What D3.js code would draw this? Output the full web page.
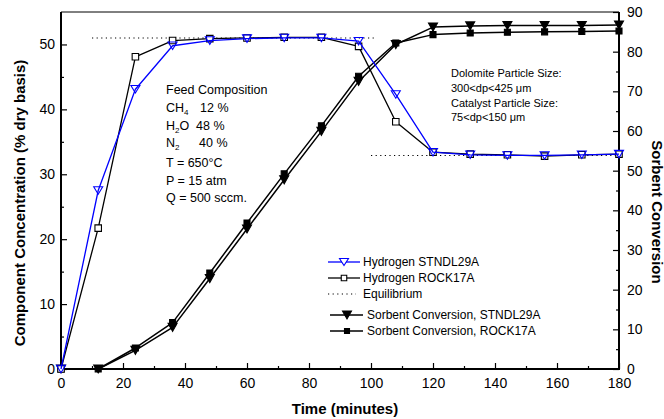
<!DOCTYPE html>
<html><head><meta charset="utf-8">
<script src="https://cdn.jsdelivr.net/npm/d3@7/dist/d3.min.js"></script>
<style>
body{margin:0;background:#fff}
svg{display:block;font-family:"Liberation Sans",Arial,sans-serif}
</style>
</head><body>
<svg id="chart" width="664" height="419"></svg>
<script>
// ---- data ----
const time       = [0, 12, 24, 36, 48, 60, 72, 84, 96, 108, 120, 132, 144, 156, 168, 180];
const h2Stndl    = [0, 27.5, 43.1, 49.8, 50.6, 50.9, 51.0, 51.0, 50.5, 42.3, 33.4, 33.0, 32.9, 32.9, 33.0, 33.1];
const h2Rock     = [0, 21.7, 48.1, 50.6, 50.9, 51.0, 51.1, 51.1, 49.7, 38.1, 33.4, 33.1, 33.0, 32.8, 33.0, 33.1];
const convStndl  = [0, 0, 4.7, 10.5, 22.8, 35.3, 47.7, 59.9, 72.5, 81.8, 86.2, 86.5, 86.6, 86.6, 86.6, 86.7];
const convRock   = [0, 0, 5.3, 11.7, 24.2, 36.8, 49.2, 61.3, 73.8, 82.2, 84.3, 84.7, 84.9, 85.0, 85.1, 85.2];
const eqUpperTime = [10, 102];
const eqUpper     = [51.0, 51.0];
const eqLowerTime = [100, 180];
const eqLower     = [32.9, 32.9];
const xTicks      = [0, 20, 40, 60, 80, 100, 120, 140, 160, 180];
const xMinor      = [10, 30, 50, 70, 90, 110, 130, 150, 170];
const leftTicks   = [0, 10, 20, 30, 40, 50];
const leftMinor   = [5, 15, 25, 35, 45];
const rightTicks  = [0, 10, 20, 30, 40, 50, 60, 70, 80, 90];
const rightMinor  = [5, 15, 25, 35, 45, 55, 65, 75, 85];
const legendLabels = ["Hydrogen STNDL29A", "Hydrogen ROCK17A", "Equilibrium",
                      "Sorbent Conversion, STNDL29A", "Sorbent Conversion, ROCK17A"];

// ---- layout ----
const L = 61, R = 619, T = 12, B = 369;
const svg = d3.select("#chart");
const x  = d3.scaleLinear().domain([0, 180]).range([L, R]);
const yL = d3.scaleLinear().domain([0, 55]).range([B, T]);
const yR = d3.scaleLinear().domain([0, 90]).range([B, T]);

function styleAxis(g, fs) {
  g.select(".domain").remove();
  g.selectAll("line").attr("stroke", "#000").attr("stroke-width", 1.2);
  g.selectAll("text").attr("font-size", fs).attr("fill", "#000")
   .attr("font-family", '"Liberation Sans",Arial,sans-serif');
}
// bottom
svg.append("g").attr("transform", `translate(0,${B})`)
  .call(d3.axisBottom(x).tickValues(xTicks).tickSizeInner(-6).tickSizeOuter(0).tickPadding(9))
  .call(g => styleAxis(g, 14));
svg.append("g").attr("transform", `translate(0,${B})`)
  .call(d3.axisBottom(x).tickValues(xMinor).tickSizeInner(-3).tickSizeOuter(0).tickFormat(""))
  .call(g => styleAxis(g, 14));
// left
svg.append("g").attr("transform", `translate(${L},0)`)
  .call(d3.axisLeft(yL).tickValues(leftTicks).tickSizeInner(-6).tickSizeOuter(0).tickPadding(6))
  .call(g => styleAxis(g, 14));
svg.append("g").attr("transform", `translate(${L},0)`)
  .call(d3.axisLeft(yL).tickValues(leftMinor).tickSizeInner(-3).tickSizeOuter(0).tickFormat(""))
  .call(g => styleAxis(g, 14));
// right
svg.append("g").attr("transform", `translate(${R},0)`)
  .call(d3.axisRight(yR).tickValues(rightTicks).tickSizeInner(-6).tickSizeOuter(0).tickPadding(8))
  .call(g => styleAxis(g, 14));
svg.append("g").attr("transform", `translate(${R},0)`)
  .call(d3.axisRight(yR).tickValues(rightMinor).tickSizeInner(-3).tickSizeOuter(0).tickFormat(""))
  .call(g => styleAxis(g, 14));

// frame
svg.append("line").attr("x1", L).attr("x2", R).attr("y1", T).attr("y2", T).attr("stroke", "#000").attr("stroke-width", 1);
svg.append("line").attr("x1", L - 1).attr("x2", R + 1).attr("y1", B).attr("y2", B).attr("stroke", "#000").attr("stroke-width", 2);
svg.append("line").attr("x1", L).attr("x2", L).attr("y1", T).attr("y2", B).attr("stroke", "#000").attr("stroke-width", 2);
svg.append("line").attr("x1", R).attr("x2", R).attr("y1", T).attr("y2", B).attr("stroke", "#000").attr("stroke-width", 2);

// axis titles
svg.append("text").attr("transform", `translate(19,203) rotate(-90)`).attr("text-anchor", "middle")
  .attr("dominant-baseline", "central").attr("font-size", 15).attr("font-weight", "bold")
  .text("Component Concentration (% dry basis)");
svg.append("text").attr("transform", `translate(657,212) rotate(90)`).attr("text-anchor", "middle")
  .attr("dominant-baseline", "central").attr("font-size", 15).attr("font-weight", "bold")
  .text("Sorbent Conversion");
svg.append("text").attr("x", 345).attr("y", 414).attr("text-anchor", "middle")
  .attr("font-size", 15).attr("font-weight", "bold").text("Time (minutes)");

// equilibrium
const eqLine = d3.line().x(d => x(d[0])).y(d => yL(d[1]));
[[eqUpperTime, eqUpper], [eqLowerTime, eqLower]].forEach(([t, v]) => {
  svg.append("path").attr("d", eqLine(t.map((d, i) => [d, v[i]])))
    .attr("fill", "none").attr("stroke", "#000").attr("stroke-width", 1.1).attr("stroke-dasharray", "1.2,3.4");
});

// symbols
const triDown = (w, h) => `M${-w/2},${-h/2}L${w/2},${-h/2}L0,${h/2}Z`;
const sq = s => `M${-s/2},${-s/2}h${s}v${s}h${-s}Z`;

function drawSeries(vals, yScale, color, lw, sym, fill) {
  const pts = time.map((t, i) => [x(t), yScale(vals[i])]);
  svg.append("path").attr("d", d3.line()(pts)).attr("fill", "none")
    .attr("stroke", color).attr("stroke-width", lw).attr("stroke-linejoin", "round");
  svg.append("g").selectAll("path").data(pts).join("path")
    .attr("transform", d => `translate(${d[0]},${d[1]})`)
    .attr("d", sym).attr("fill", fill).attr("stroke", color).attr("stroke-width", 1.1);
}
drawSeries(convRock, yR, "#000", 1.5, sq(6), "#000");
drawSeries(convStndl, yR, "#000", 1.5, triDown(9, 8), "#000");
drawSeries(h2Rock, yL, "#000", 1.3, sq(6.5), "#fff");
drawSeries(h2Stndl, yL, "#0000ff", 1.3, triDown(9, 7.5), "none");

// annotations
const ann = svg.append("g").attr("font-size", 12.5).attr("fill", "#000");
ann.append("text").attr("x", 166).attr("y", 94).text("Feed Composition");
function subLine(y, main, sub, rest, restX) {
  const t = ann.append("text").attr("x", 166).attr("y", y);
  t.append("tspan").text(main);
  t.append("tspan").attr("font-size", 8).attr("dy", 3).text(sub);
  if (rest.length) t.append("tspan").attr("dy", -3).text(rest[0]);
  const t2 = ann.append("text").attr("x", restX).attr("y", y).text(rest[1]);
}
(function(){
  let t = ann.append("text").attr("x", 166).attr("y", 112);
  t.append("tspan").text("CH"); t.append("tspan").attr("font-size", 8).attr("dy", 3).text("4");
  ann.append("text").attr("x", 200).attr("y", 112).text("12 %");
  t = ann.append("text").attr("x", 166).attr("y", 130);
  t.append("tspan").text("H"); t.append("tspan").attr("font-size", 8).attr("dy", 3).text("2");
  t.append("tspan").attr("dy", -3).text("O");
  ann.append("text").attr("x", 196).attr("y", 130).text("48 %");
  t = ann.append("text").attr("x", 166).attr("y", 147);
  t.append("tspan").text("N"); t.append("tspan").attr("font-size", 8).attr("dy", 3).text("2");
  ann.append("text").attr("x", 199).attr("y", 147).text("40 %");
})();
ann.append("text").attr("x", 166).attr("y", 167).text("T = 650°C");
ann.append("text").attr("x", 166).attr("y", 185).text("P = 15 atm");
ann.append("text").attr("x", 166).attr("y", 202).text("Q = 500 sccm.");

const ann2 = svg.append("g").attr("font-size", 11).attr("fill", "#000");
ann2.append("text").attr("x", 451).attr("y", 77).text("Dolomite Particle Size:");
ann2.append("text").attr("x", 451).attr("y", 92).text("300<dp<425 μm");
ann2.append("text").attr("x", 451).attr("y", 107).text("Catalyst Particle Size:");
ann2.append("text").attr("x", 451).attr("y", 121).text("75<dp<150 μm");

// legend
const lg = svg.append("g").attr("font-size", 12);
const rows = [
  {y: 262, x1: 328, x2: 360, mx: 344, tx: 363, color: "#0000ff", sym: triDown(9, 7), fill: "#fff", lw: 1.3},
  {y: 278, x1: 328, x2: 360, mx: 344, tx: 363, color: "#000", sym: sq(5.5), fill: "#fff", lw: 1.3},
  {y: 294, x1: 328, x2: 356, mx: null, tx: 363, color: "#000", dash: true},
  {y: 315, x1: 330, x2: 363, mx: 347, tx: 367, color: "#000", sym: triDown(9, 8), fill: "#000", lw: 1.5},
  {y: 331, x1: 330, x2: 363, mx: 347, tx: 367, color: "#000", sym: sq(5), fill: "#000", lw: 1.5}
];
rows.forEach((r, i) => {
  const ln = lg.append("line").attr("x1", r.x1).attr("x2", r.x2).attr("y1", r.y).attr("y2", r.y)
    .attr("stroke", r.color).attr("stroke-width", r.dash ? 1.1 : r.lw);
  if (r.dash) ln.attr("stroke-dasharray", "1.2,3.4");
  if (r.mx !== null) {
    lg.append("path").attr("transform", `translate(${r.mx},${r.y})`).attr("d", r.sym)
      .attr("fill", r.fill).attr("stroke", r.color).attr("stroke-width", 1.1);
  }
  lg.append("text").attr("x", r.tx).attr("y", r.y).attr("dy", "0.35em").text(legendLabels[i]);
});
</script>
</body></html>
